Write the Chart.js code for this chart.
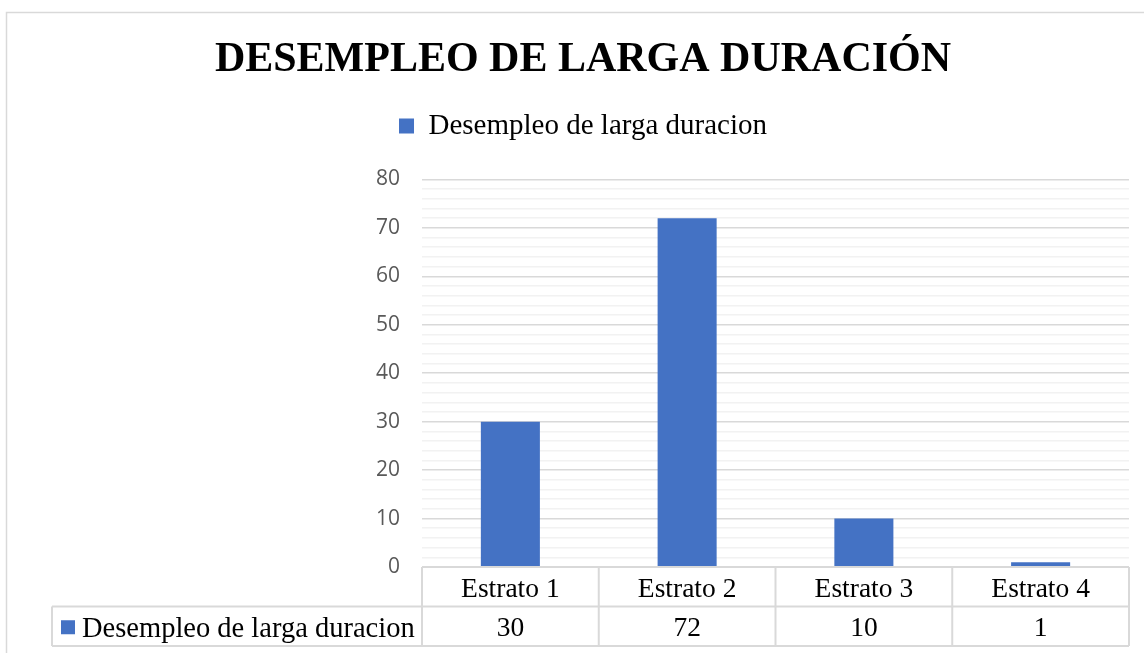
<!DOCTYPE html>
<html>
<head>
<meta charset="utf-8">
<script src="https://cdn.jsdelivr.net/npm/chart.js@4.4.1/dist/chart.umd.min.js"></script>
<style>
  html, body { margin: 0; padding: 0; background: #fff; }
  #wrap { width: 1144px; height: 653px; }
</style>
</head>
<body>
<div id="wrap"><canvas id="myChart" width="1144" height="653"></canvas></div>
<script>
const categories = ["Estrato 1", "Estrato 2", "Estrato 3", "Estrato 4"]
const values = [30, 72, 10, 1]
const seriesName = "Desempleo de larga duracion"
const titleText = "DESEMPLEO DE LARGA DURACIÓN"

const barColor = "#4472C4"
const lineColor = "#d9d9d9"
const serif = "'Liberation Serif', 'Times New Roman', serif"

const ctx = document.getElementById('myChart').getContext("2d")

// fondo blanco + marco exterior
const frame = {
  id: 'frame',
  beforeDraw(chart) {
    const c = chart.ctx
    c.save()
    c.fillStyle = "#fff"
    c.fillRect(0, 0, chart.width, chart.height)
    c.strokeStyle = lineColor
    c.lineWidth = 1.5
    c.strokeRect(6.5, 12.5, chart.width + 20, chart.height + 20)
    c.restore()
  }
}

// tabla de datos debajo del eje x (como en Excel)
const dataTable = {
  id: 'dataTable',
  afterDraw(chart) {
    const c = chart.ctx
    const x = chart.scales.x
    const area = chart.chartArea
    const colW = (area.right - area.left) / categories.length
    const top = area.bottom
    const mid = top + 39.5
    const bot = 646
    const tableLeft = 52

    c.save()
    c.strokeStyle = lineColor
    c.lineWidth = 2
    c.beginPath()
    c.moveTo(area.left, top); c.lineTo(area.right, top)
    c.moveTo(tableLeft, mid); c.lineTo(area.right, mid)
    c.moveTo(tableLeft, bot); c.lineTo(area.right, bot)
    c.moveTo(tableLeft, mid); c.lineTo(tableLeft, bot)
    for (let i = 0; i <= categories.length; i++) {
      const lx = area.left + i * colW
      c.moveTo(lx, top); c.lineTo(lx, bot)
    }
    c.stroke()

    c.fillStyle = "#000"
    c.font = "27.5px " + serif
    c.textAlign = "center"
    c.textBaseline = "middle"
    categories.forEach((cat, i) => {
      const cx = x.getPixelForValue(i)
      c.fillText(cat, cx, (top + mid) / 2 + 3)
      c.fillText(String(values[i]), cx, (mid + bot) / 2 + 3)
    })

    // leyenda dentro de la tabla
    c.fillStyle = barColor
    c.fillRect(61, (mid + bot) / 2 - 6, 14, 14)
    c.fillStyle = "#000"
    c.textAlign = "left"
    c.font = "28.5px " + serif
    c.fillText(seriesName, 82, (mid + bot) / 2 + 3)
    c.restore()
  }
}

new Chart(ctx, {
  type: 'bar',
  data: {
    labels: categories,
    datasets: [{
      label: seriesName,
      data: values,
      backgroundColor: barColor,
      borderWidth: 0,
      barPercentage: 0.334,
      categoryPercentage: 1
    }]
  },
  options: {
    responsive: false,
    animation: false,
    layout: {
      padding: { left: 37, right: 15, top: 0, bottom: 0 }
    },
    plugins: {
      title: {
        display: true,
        text: titleText,
        color: "#000",
        font: { family: serif, size: 42, weight: 'bold', lineHeight: 1.2 },
        padding: { top: 35, bottom: 16 }
      },
      legend: {
        display: true,
        labels: {
          color: "#000",
          font: { family: serif, size: 29 },
          boxWidth: 15,
          boxHeight: 15,
          padding: 10
        }
      },
      tooltip: { enabled: false }
    },
    scales: {
      x: {
        grid: { display: false },
        border: { display: false },
        ticks: { display: false },
        afterFit(scale) { scale.height = 86 }
      },
      y: {
        min: 0,
        max: 80,
        border: { display: false },
        grid: {
          drawTicks: false,
          lineWidth: 1.5,
          color: (c) => c.tick && c.tick.value % 10 === 0 ? "#d9d9d9" : "#f2f2f2"
        },
        ticks: {
          stepSize: 2,
          autoSkip: false,
          padding: 22,
          color: "#595959",
          font: { family: "'Open Sans', sans-serif", size: 21 },
          callback: (v) => v % 10 === 0 ? v : ''
        },
        afterFit(scale) { scale.width = 385 }
      }
    }
  },
  plugins: [frame, dataTable, {
    beforeInit(chart) {
      const fitValue = chart.legend.fit
      chart.legend.fit = function fit() {
        fitValue.bind(chart.legend)()
        this.height = 78
      }
    }
  }]
})
</script>
</body>
</html>
